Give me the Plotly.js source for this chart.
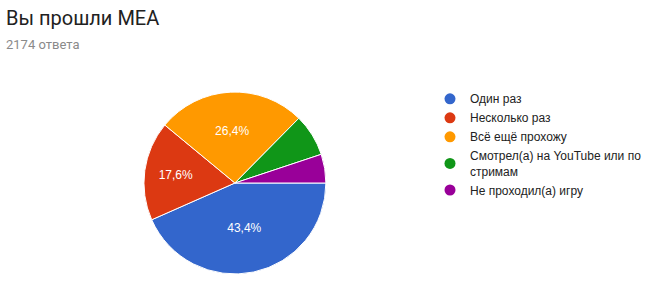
<!DOCTYPE html>
<html><head><meta charset="utf-8">
<script src="https://cdn.plot.ly/plotly-3.0.1.min.js"></script>
<style>html,body{margin:0;padding:0;background:#fff;}#chart{width:647px;height:281px;}</style>
</head><body><div id="chart"></div>
<script>
const categories = ["Один раз", "Несколько раз", "Всё ещё прохожу", "Смотрел(а) на YouTube или по<br>стримам", "Не проходил(а) игру"];
const counts = [943, 383, 574, 163, 111];
const colors = ["#3366cc", "#dc3912", "#ff9900", "#109618", "#990099"];
const showLabel = [true, true, true, false, false];
const titleText = "Вы прошли MEA";
const subtitleText = "2174 ответа";

const pie = {
  type: "pie",
  labels: categories,
  values: counts,
  sort: false,
  direction: "clockwise",
  rotation: 90,
  marker: {colors: colors, line: {color: "#ffffff", width: 1}},
  texttemplate: showLabel.map(s => s ? "%{percent:.1%}" : ""),
  textposition: "inside",
  insidetextorientation: "horizontal",
  textfont: {family: "Liberation Sans, Arial", size: 12, color: "#ffffff"},
  hoverinfo: "none",
  showlegend: false,
  domain: {x: [0.2249, 0.5092], y: [0.0249, 0.6726]}
};

const legendTraces = categories.map((c, i) => ({
  type: "scatter", mode: "markers", x: [null], y: [null],
  name: c, marker: {color: colors[i], size: 11, symbol: "circle"},
  showlegend: true, hoverinfo: "none"
}));

const layout = {
  width: 647, height: 281,
  margin: {l: 0, r: 0, t: 0, b: 0},
  paper_bgcolor: "#ffffff", plot_bgcolor: "#ffffff",
  separators: ", ",
  xaxis: {visible: false}, yaxis: {visible: false},
  showlegend: true,
  legend: {
    x: 0.672, y: 0.70, xanchor: "left", yanchor: "top",
    font: {family: "Liberation Sans, Arial", size: 12, color: "#222222"},
    itemwidth: 30, tracegroupgap: 0, bgcolor: "rgba(0,0,0,0)"
  },
  annotations: [
    {text: titleText, xref: "paper", yref: "paper", x: 0, y: 1, xanchor: "left", yanchor: "top",
     xshift: 4, yshift: -4, showarrow: false, font: {family: "Roboto", size: 20, color: "#212121"}},
    {text: subtitleText, xref: "paper", yref: "paper", x: 0, y: 1, xanchor: "left", yanchor: "top",
     xshift: 4, yshift: -35, showarrow: false, font: {family: "Roboto", size: 13, color: "#8a8a8a"}}
  ]
};

Plotly.newPlot("chart", [pie].concat(legendTraces), layout, {staticPlot: true, displayModeBar: false});
</script></body></html>
